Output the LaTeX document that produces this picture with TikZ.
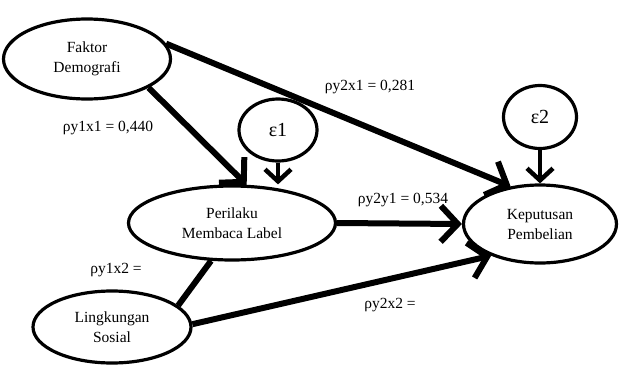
\documentclass[tikz,border=0pt]{standalone}
\usepackage{fontspec}
\setmainfont{Liberation Serif}
\usetikzlibrary{shapes,positioning,arrows.meta}

\begin{document}
\begin{tikzpicture}[x=1pt, y=-1pt,
        font=\fontsize{15.5}{20}\selectfont,
        every node/.append style={align=center, inner sep=0pt},
        path/.style={line width=6pt, -{Straight Barb[length=17pt, width=36pt]}},
        err/.style={line width=4.5pt, -{Straight Barb[length=12pt, width=26pt]}}]
      \tikzstyle{var} = [ellipse, draw, line width=3.2pt]
      \tikzstyle{coef} = [color=black]
      \tikzstyle{eps} = [font=\fontsize{20}{22}\selectfont]
      \useasboundingbox (0,0) rectangle (622,367);
      \node (FAKTOR) [var, minimum width=167pt, minimum height=80pt] at (87,59) {Faktor\\Demografi};
      \node (E1) [var, eps, minimum width=78pt, minimum height=62pt] at (278,130) {ε1};
      \node (PERILAKU) [var, minimum width=207pt, minimum height=74pt] at (232,223) {Perilaku\\Membaca Label};
      \node (LINGKUNGAN) [var, minimum width=158pt, minimum height=72pt] at (112,327) {Lingkungan\\Sosial};
      \node (KEPUTUSAN) [var, minimum width=153pt, minimum height=78pt] at (540,224) {Keputusan\\Pembelian};
      \node (E2) [var, eps, minimum width=73pt, minimum height=63pt] at (540,117) {ε2};

      \draw[path] (FAKTOR.11) -- (KEPUTUSAN.128);
      \draw[path] (FAKTOR.-25) -- (PERILAKU.69);
      \draw[path] (PERILAKU.east) -- (KEPUTUSAN.west);
      \draw[path] (LINGKUNGAN.2) -- (KEPUTUSAN.-147);
      \draw[line width=6pt] (LINGKUNGAN.18) -- (PERILAKU.-119);
      \draw[err] (E1) -- (E1 |- PERILAKU.north);
      \draw[err] (E2) -- (KEPUTUSAN);

      \node (yx1) [coef] at (370,87) {ρy2x1 = 0,281};
      \node (y1x1) [coef] at (108,128) {ρy1x1 = 0,440};
      \node (y2y1) [coef] at (403,200) {ρy2y1 = 0,534};
      \node (y1x2) [coef] at (116,270) {ρy1x2 =};
      \node (y2x2) [coef] at (390,305) {ρy2x2 =};
\end{tikzpicture}
\end{document}
